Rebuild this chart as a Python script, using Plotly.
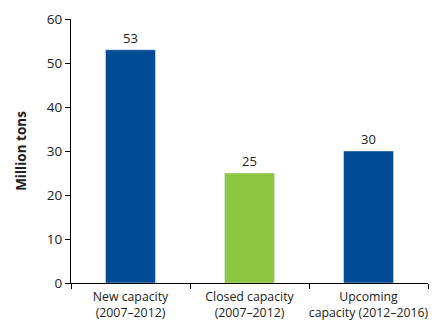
import plotly.graph_objects as go

categories = ["New capacity<br>(2007–2012)", "Closed capacity<br>(2007–2012)", "Upcoming<br>capacity (2012–2016)"]
values = [53, 25, 30]
colors = ["#004B93", "#8DC63F", "#004B93"]

fig = go.Figure(go.Bar(
    x=categories, y=values, marker_color=colors, width=0.42,
    text=[str(v) for v in values], textposition="outside",
    textfont=dict(size=13, color="#222"), cliponaxis=False,
))
fig.update_layout(
    width=445, height=326, margin=dict(l=71, r=17, t=19, b=43),
    plot_bgcolor="white", paper_bgcolor="white",
    font=dict(family="Open Sans", size=12, color="#222"),
    showlegend=False, bargap=0.58,
)
fig.update_xaxes(showline=True, linecolor="black", linewidth=1, ticks="outside",
                 tickson="boundaries", ticklen=5, tickcolor="black",
                 tickangle=0, automargin=False, tickfont=dict(size=12.3),
                 ticklabelstandoff=2)
fig.update_yaxes(range=[0, 60], dtick=10, showline=True, linecolor="black", linewidth=1,
                 ticks="outside", ticklen=5, tickcolor="black", showgrid=False,
                 zeroline=False, tickfont=dict(size=13.5), automargin=False,
                 title=dict(text="<b>Million tons</b>", font=dict(size=13.5), standoff=17))
fig.write_html("out.html")
